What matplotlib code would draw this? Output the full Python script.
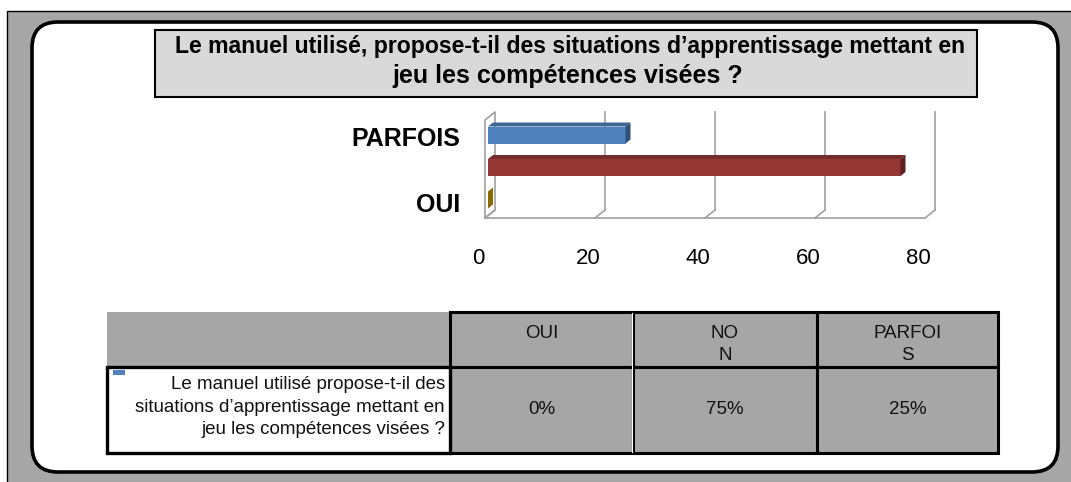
import matplotlib
matplotlib.use("Agg")
import matplotlib.pyplot as plt
from matplotlib.patches import Rectangle, FancyBboxPatch, Polygon
from matplotlib.transforms import ScaledTranslation

# data
categories = ['OUI', 'NON', 'PARFOIS']
values = [0, 75, 25]
axis_labels = ['OUI', '', 'PARFOIS']   # Excel skipped the middle label
header_labels = ['OUI', 'NO\nN', 'PARFOI\nS']
x_ticks = [0, 20, 40, 60, 80]
row_label = "Le manuel utilisé propose-t-il des\nsituations d\u2019apprentissage mettant en\njeu les compétences visées ?"
title_1 = "Le manuel utilisé, propose-t-il des situations d\u2019apprentissage mettant en"
title_2 = "jeu les compétences visées ?"

front_colors = ['#c49a06', '#953735', '#4f81bd']
top_colors = ['#a37f05', '#772b2a', '#3c6597']
end_colors = ['#8a6a04', '#5e2120', '#2f5079']

plt.rcParams['font.family'] = ['Liberation Sans', 'DejaVu Sans']
GRAY = '#a6a6a6'

fig = plt.figure(figsize=(10.71, 4.82), dpi=100)

# background layer in pixel units
bg = fig.add_axes([0, 0, 1, 1])
bg.set_xlim(0, 1071)
bg.set_ylim(482, 0)
bg.axis('off')

bg.add_patch(Rectangle((7, 11), 1080, 480, facecolor=GRAY, edgecolor='black', lw=1))
bg.add_patch(FancyBboxPatch((32, 22), 1026, 450, boxstyle="round,pad=0,rounding_size=26",
                            facecolor='white', edgecolor='black', lw=2.6))

# title box
bg.add_patch(Rectangle((155, 30), 822, 67, facecolor='#d9d9d9', edgecolor='black', lw=1.5))
bg.text(570, 46, title_1, ha='center', va='center', fontsize=16.6, fontweight='bold')
bg.text(567.5, 76, title_2, ha='center', va='center', fontsize=18, fontweight='bold')

# data table
col_x = [107, 450, 633, 817, 998]
head_y, body_y, end_y = 312, 367, 453
bg.add_patch(Rectangle((col_x[0], head_y), col_x[1] - col_x[0], body_y - head_y,
                       facecolor=GRAY, edgecolor='none'))
for i in range(3):
    x0, x1 = col_x[i + 1], col_x[i + 2]
    bg.add_patch(Rectangle((x0, head_y), x1 - x0, body_y - head_y,
                           facecolor=GRAY, edgecolor='black', lw=2.2))
    bg.add_patch(Rectangle((x0, body_y), x1 - x0, end_y - body_y,
                           facecolor=GRAY, edgecolor='black', lw=2.2))
    bg.text((x0 + x1) / 2, 325, header_labels[i], ha='center', va='top',
            fontsize=13.5, color='#111111', linespacing=1.4)
    bg.text((x0 + x1) / 2, 410, f'{values[i]}%', ha='center', va='center',
            fontsize=13.5, color='#111111')
bg.plot([col_x[2] - 1.5, col_x[2] - 1.5], [head_y + 1, end_y - 1], color='white', lw=0.8)
bg.add_patch(Rectangle((col_x[0], body_y), col_x[1] - col_x[0], end_y - body_y,
                       facecolor='white', edgecolor='black', lw=2.4))
bg.add_patch(Rectangle((113, 370), 12, 4.5, facecolor=front_colors[2], edgecolor='none'))
bg.text(445, 407, row_label, ha='right', va='center', fontsize=13.5,
        color='#111111', linespacing=1.42, multialignment='right')

# 3D-looking bar chart
ax = fig.add_axes([470 / 1071, (482 - 235) / 482, 475 / 1071, 135 / 482])
ax.set_xlim(-15 / 5.5, 80 + 20 / 5.5)
ax.set_ylim(-35 / 32.5, 100 / 32.5)
ax.patch.set_alpha(0)
for s in ax.spines.values():
    s.set_visible(False)

DX, DY = 10 / 5.5, 8 / 32.5          # wall depth
floor, top = -18 / 32.5, 88 / 32.5
gc = '#a0a0a0'
# left wall
ax.plot([0, 0, DX, DX, 0], [floor, top - DY, top, floor + DY, floor], color=gc, lw=1.2)
for t in x_ticks:
    ax.plot([t, t + DX], [floor, floor + DY], color=gc, lw=1.2)
    if t > 0:
        ax.plot([t + DX, t + DX], [floor + DY, top], color=gc, lw=1.2)
ax.plot([0, x_ticks[-1]], [floor, floor], color=gc, lw=1.2)

bh = 17 / 32.5
L = 3 / 5.5
bdx, bdy = 5 / 5.5, 4 / 32.5
ypos = list(range(len(categories)))
ax.barh(ypos, values, height=bh, left=L, color=front_colors, edgecolor='none', zorder=3)
for y, v, tc, ec in zip(ypos, values, top_colors, end_colors):
    x1 = L + v
    ax.add_patch(Polygon([(L, y + bh / 2), (x1, y + bh / 2), (x1 + bdx, y + bh / 2 + bdy),
                          (L + bdx, y + bh / 2 + bdy)], closed=True, facecolor=tc,
                         edgecolor='none', zorder=3))
    ax.add_patch(Polygon([(x1, y - bh / 2), (x1 + bdx, y - bh / 2 + bdy),
                          (x1 + bdx, y + bh / 2 + bdy), (x1, y + bh / 2)], closed=True,
                         facecolor=ec, edgecolor='none', zorder=3))

ax.set_yticks(ypos)
ax.set_yticklabels(axis_labels, fontsize=18, fontweight='bold')
ax.set_xticks(x_ticks)
ax.set_xticklabels([str(t) for t in x_ticks], fontsize=16)
ax.tick_params(length=0, axis='x', pad=9)
ax.tick_params(length=0, axis='y', pad=7)
shift = ScaledTranslation(-7 / 100, 0, fig.dpi_scale_trans)
for lab in ax.get_xticklabels():
    lab.set_transform(lab.get_transform() + shift)
shift_y = ScaledTranslation(0, -2 / 100, fig.dpi_scale_trans)
for lab in ax.get_yticklabels():
    lab.set_transform(lab.get_transform() + shift_y)

fig.savefig("out.png", dpi=100)
